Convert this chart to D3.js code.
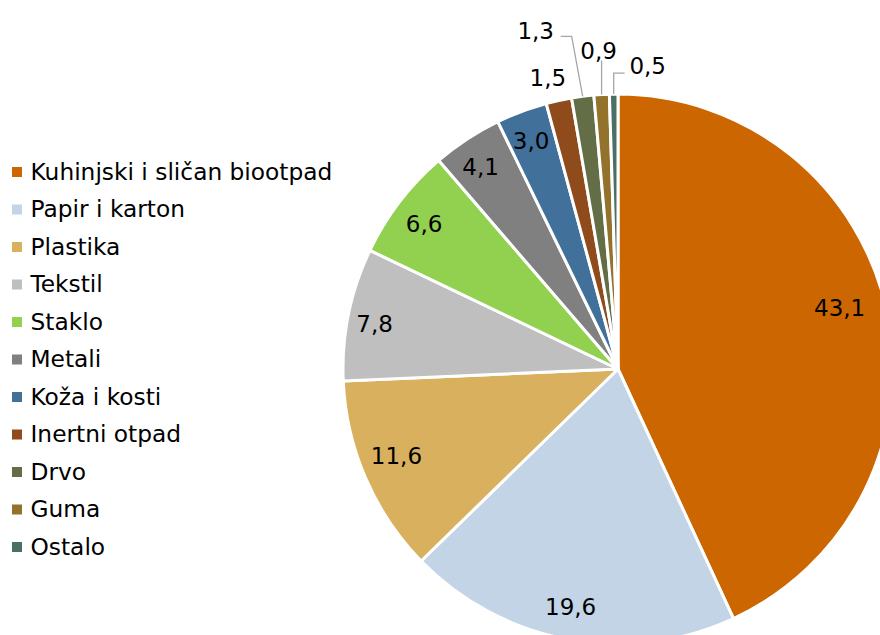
<!DOCTYPE html>
<html>
<head>
<meta charset="utf-8">
<script src="https://cdn.jsdelivr.net/npm/d3@7"></script>
<style>
  body { margin: 0; background: #fff; }
  svg { display: block; font-family: "DejaVu Sans", sans-serif; }
</style>
</head>
<body>
<svg></svg>
<script>
const width = 880;
const height = 635;

const categories = [
  "Kuhinjski i sličan biootpad", "Papir i karton", "Plastika", "Tekstil",
  "Staklo", "Metali", "Koža i kosti", "Inertni otpad", "Drvo", "Guma", "Ostalo"
];
const values = [43.1, 19.6, 11.6, 7.8, 6.6, 4.1, 3.0, 1.5, 1.3, 0.9, 0.5];
const colors = [
  "#cc6600", "#c2d4e6", "#d8b05e", "#bfbfbf", "#92d050", "#808080",
  "#41709a", "#904b1d", "#646e46", "#93732b", "#4a6f66"
];

// small shifts of the inside labels, like Excel's "best fit"
const labelNudge = [
  [-12, -10], [-4, 2], [-2, -8], [-9, 2], [-4, 0], [-6, -2], [-3, -4],
  [0, 0], [0, 0], [0, 0], [0, 0]
];

// small slices get their label outside, shifted from the rim point
const outside = {
  "Inertni otpad": { dx: -11, dy: -23, leader: null },
  "Drvo": { dx: -47, dy: -66, leader: [[-22, -60], [-11, -60]] },
  "Guma": { dx: -3, dy: -44, leader: [[0, -34]] },
  "Ostalo": { dx: 34, dy: -28, leader: [[11, -21], [0, -21]] }
};

const cx = 618, cy = 369, r = 275;
const fmt = v => d3.format(".1f")(v).replace(".", ",");

const svg = d3.select("svg").attr("width", width).attr("height", height);

const data = categories.map((c, i) => ({
  name: c, value: values[i], color: colors[i], nudge: labelNudge[i]
}));

const pie = d3.pie().sort(null).value(d => d.value);
const arc = d3.arc().innerRadius(0).outerRadius(r);
const labelArc = d3.arc().innerRadius(r * 0.87).outerRadius(r * 0.87);
const rimArc = d3.arc().innerRadius(r).outerRadius(r);

const arcs = pie(data);
const g = svg.append("g").attr("transform", `translate(${cx},${cy})`);

g.selectAll("path.slice")
  .data(arcs)
  .join("path")
  .attr("class", "slice")
  .attr("d", arc)
  .attr("fill", d => d.data.color)
  .attr("stroke", "#fff")
  .attr("stroke-width", 3)
  .attr("stroke-linejoin", "round");

const inner = arcs.filter(d => !outside[d.data.name]);
const outer = arcs.filter(d => outside[d.data.name]);

g.selectAll("text.inlabel")
  .data(inner)
  .join("text")
  .attr("class", "inlabel")
  .attr("transform", d => {
    const [x, y] = labelArc.centroid(d);
    return `translate(${x + d.data.nudge[0]},${y + d.data.nudge[1]})`;
  })
  .attr("text-anchor", "middle")
  .attr("dy", "0.36em")
  .attr("font-size", 23)
  .attr("fill", "#000")
  .text(d => fmt(d.data.value));

outer.forEach(d => {
  const o = outside[d.data.name];
  const [ex, ey] = rimArc.centroid(d);
  if (o.leader) {
    const pts = o.leader.map(p => [ex + p[0], ey + p[1]]).concat([[ex, ey]]);
    g.append("path")
      .attr("d", d3.line()(pts))
      .attr("fill", "none")
      .attr("stroke", "#a6a6a6")
      .attr("stroke-width", 1.3);
  }
  g.append("text")
    .attr("x", ex + o.dx)
    .attr("y", ey + o.dy)
    .attr("text-anchor", "middle")
    .attr("dy", "0.36em")
    .attr("font-size", 23)
    .attr("fill", "#000")
    .text(fmt(d.data.value));
});

// legend
const legend = svg.append("g").attr("transform", "translate(12,172)");
const rows = legend.selectAll("g")
  .data(data)
  .join("g")
  .attr("transform", (d, i) => `translate(0,${i * 37.5})`);
rows.append("rect")
  .attr("x", 0).attr("y", -5)
  .attr("width", 10).attr("height", 10)
  .attr("fill", d => d.color);
rows.append("text")
  .attr("x", 18.5)
  .attr("y", 7.6)
  .attr("font-size", 23.3)
  .attr("fill", "#000")
  .text(d => d.name);
</script>
</body>
</html>
